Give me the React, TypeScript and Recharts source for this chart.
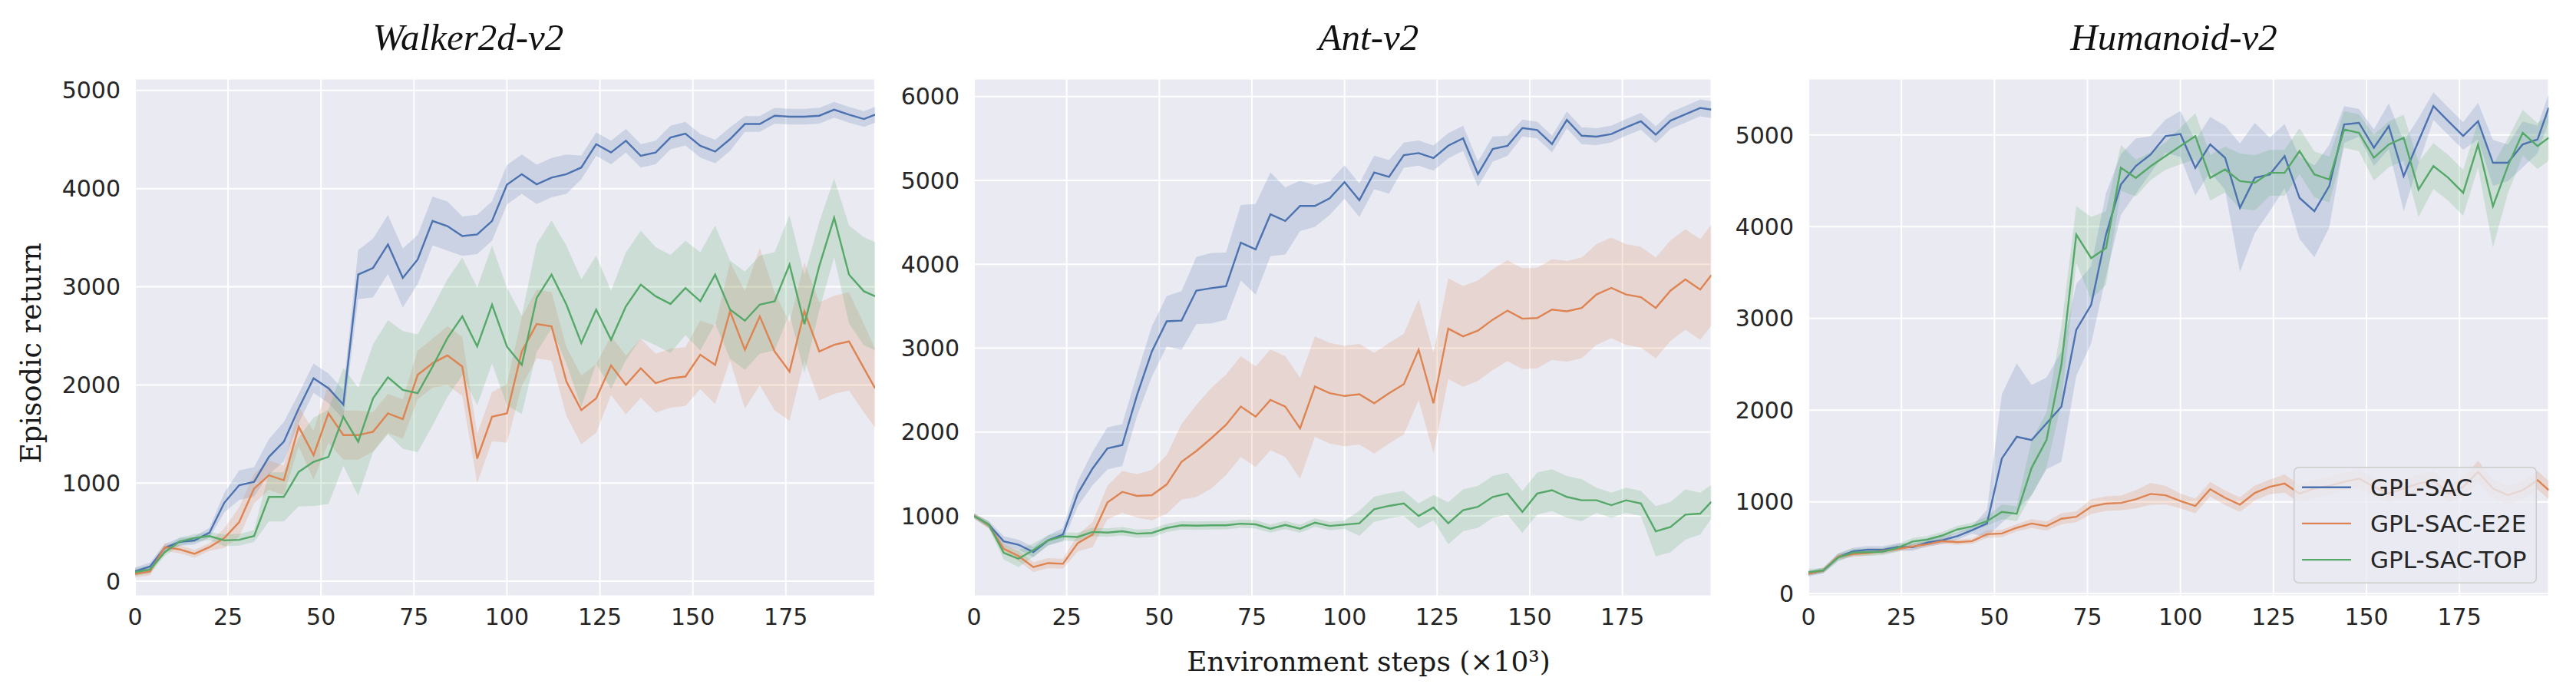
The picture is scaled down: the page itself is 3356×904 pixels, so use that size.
import React from 'react';
import { ComposedChart, Line, Area, XAxis, YAxis, CartesianGrid, Legend } from 'recharts';

const steps = [0, 4, 8, 12, 16, 20, 24, 28, 32, 36, 40, 44, 48, 52, 56, 60, 64, 68, 72, 76, 80, 84, 88, 92, 96, 100,
  104, 108, 112, 116, 120, 124, 128, 132, 136, 140, 144, 148, 152, 156, 160, 164, 168, 172, 176, 180, 184, 188, 192, 196, 199];

const xTicks = [0, 25, 50, 75, 100, 125, 150, 175];
const walkerTicks = [0, 1000, 2000, 3000, 4000, 5000];
const antTicks = [1000, 2000, 3000, 4000, 5000, 6000];
const humanoidTicks = [0, 1000, 2000, 3000, 4000, 5000];

const seriesNames = ['GPL-SAC', 'GPL-SAC-E2E', 'GPL-SAC-TOP'];
const seriesColors = ['#4c72b0', '#dd8452', '#55a868'];

// Walker2d-v2
const walkerSac = [100, 150, 340, 400, 415, 494, 800, 978, 1012, 1267, 1421, 1761, 2068, 1966, 1800, 3124, 3192, 3431, 3090, 3278, 3670, 3618, 3516, 3533, 3670, 4040,
  4147, 4044, 4112, 4147, 4215, 4453, 4368, 4487, 4334, 4368, 4521, 4560, 4436, 4378, 4504, 4658, 4658, 4743, 4733, 4733, 4743, 4804, 4753, 4709, 4753];
const walkerSacSd = [40, 40, 40, 40, 40, 50, 100, 150, 150, 180, 200, 150, 150, 150, 150, 250, 300, 300, 300, 250, 250, 250, 200, 200, 200, 200,
  200, 200, 200, 200, 120, 120, 120, 120, 120, 120, 120, 120, 120, 120, 120, 80, 80, 80, 80, 80, 80, 80, 80, 80, 80];
const walkerE2e = [75, 99, 347, 324, 279, 347, 440, 603, 944, 1080, 1029, 1574, 1284, 1710, 1489, 1489, 1523, 1710, 1652, 2102, 2221, 2300, 2187, 1250, 1676, 1710,
  2341, 2620, 2596, 2034, 1744, 1863, 2198, 2000, 2170, 2017, 2068, 2085, 2307, 2204, 2750, 2358, 2698, 2341, 2136, 2750, 2341, 2409, 2443, 2170, 1966];
const walkerE2eSd = [40, 40, 40, 40, 40, 40, 100, 150, 150, 150, 150, 200, 250, 300, 250, 250, 200, 200, 200, 250, 250, 300, 300, 250, 250, 300,
  350, 350, 350, 350, 350, 350, 300, 300, 300, 300, 300, 300, 350, 400, 500, 600, 700, 600, 500, 500, 500, 500, 500, 450, 400];
const walkerTop = [92, 119, 296, 405, 440, 460, 416, 422, 460, 859, 859, 1114, 1216, 1267, 1676, 1421, 1864, 2078, 1949, 1915, 2187, 2477, 2698, 2392, 2818, 2390,
  2204, 2886, 3124, 2818, 2426, 2767, 2460, 2801, 3022, 2903, 2825, 2988, 2852, 3124, 2767, 2654, 2818, 2852, 3227, 2620, 3210, 3704, 3124, 2954, 2903];
const walkerTopSd = [40, 40, 40, 40, 40, 40, 60, 60, 60, 250, 250, 350, 450, 480, 500, 550, 550, 580, 600, 600, 600, 600, 600, 600, 600, 600,
  500, 550, 550, 600, 650, 550, 500, 550, 550, 500, 500, 480, 500, 500, 500, 500, 500, 500, 500, 500, 450, 400, 500, 550, 550];

// Ant-v2
const antSac = [1000, 896, 697, 657, 569, 709, 777, 1267, 1566, 1805, 1845, 2443, 2962, 3321, 3329, 3687, 3715, 3739, 4258, 4178, 4596, 4517, 4696, 4696, 4788, 4980,
  4764, 5095, 5043, 5302, 5326, 5266, 5414, 5502, 5075, 5374, 5414, 5625, 5601, 5434, 5721, 5533, 5522, 5553, 5633, 5705, 5545, 5713, 5789, 5864, 5845];
const antSacSd = [30, 40, 60, 60, 60, 60, 80, 150, 200, 250, 250, 250, 300, 300, 350, 400, 420, 400, 450, 540, 500, 400, 300, 250, 200, 200,
  200, 200, 200, 150, 150, 150, 150, 150, 150, 150, 120, 100, 100, 100, 100, 100, 100, 100, 100, 100, 100, 100, 100, 100, 100];
const antE2e = [1000, 888, 609, 522, 390, 438, 430, 677, 777, 1160, 1287, 1239, 1247, 1375, 1646, 1774, 1925, 2085, 2304, 2184, 2384, 2304, 2045, 2543, 2463, 2430,
  2451, 2344, 2463, 2571, 2982, 2344, 3233, 3141, 3209, 3340, 3448, 3352, 3360, 3460, 3440, 3480, 3640, 3719, 3640, 3608, 3480, 3687, 3819, 3699, 3871];
const antE2eSd = [30, 40, 60, 60, 60, 60, 60, 100, 150, 200, 250, 260, 300, 350, 450, 550, 600, 600, 600, 600, 600, 600, 600, 600, 600, 600,
  600, 600, 600, 600, 600, 600, 600, 600, 600, 600, 600, 600, 600, 600, 600, 600, 600, 600, 600, 600, 600, 600, 600, 600, 600];
const antTop = [1000, 896, 561, 490, 593, 709, 757, 749, 809, 801, 817, 789, 797, 856, 888, 884, 888, 888, 908, 900, 848, 892, 848, 920, 880, 896,
  912, 1080, 1120, 1148, 1000, 1100, 912, 1068, 1108, 1227, 1267, 1048, 1267, 1307, 1227, 1187, 1187, 1128, 1187, 1148, 817, 868, 1016, 1028, 1168];
const antTopSd = [30, 40, 80, 100, 80, 60, 50, 50, 50, 50, 50, 50, 50, 50, 50, 50, 50, 50, 50, 50, 50, 50, 50, 50, 50, 50,
  150, 150, 150, 150, 150, 150, 250, 250, 250, 250, 250, 250, 250, 250, 250, 250, 150, 150, 150, 150, 300, 300, 300, 250, 200];

// Humanoid-v2
const humSac = [217, 253, 399, 461, 480, 477, 510, 506, 557, 583, 626, 692, 765, 1474, 1710, 1674, 1856, 2038, 2876, 3149, 3914, 4461, 4661, 4788, 4988, 5010,
  4642, 4898, 4752, 4206, 4533, 4569, 4770, 4315, 4169, 4443, 5115, 5133, 4861, 5097, 4551, 4934, 5315, 5151, 4989, 5151, 4697, 4697, 4898, 4952, 5298];
const humSacSd = [30, 30, 40, 40, 40, 40, 40, 40, 40, 40, 40, 40, 150, 700, 800, 600, 500, 600, 500, 420, 450, 330, 300, 200, 180, 250,
  300, 300, 350, 700, 600, 400, 350, 450, 500, 450, 200, 150, 200, 250, 380, 250, 150, 150, 150, 200, 250, 200, 250, 150, 150];
const humE2e = [217, 253, 404, 430, 444, 466, 488, 514, 539, 572, 561, 572, 648, 656, 718, 765, 736, 816, 838, 949, 982, 989, 1029, 1087, 1073, 1010,
  956, 1138, 1044, 971, 1098, 1164, 1200, 1091, 1146, 1175, 1219, 1255, 1164, 1091, 1146, 1200, 1237, 1091, 1164, 1328, 1146, 1073, 1128, 1237, 1128];
const humE2eSd = [20, 25, 30, 30, 30, 30, 30, 30, 30, 30, 30, 30, 40, 40, 40, 50, 50, 60, 60, 80, 80, 80, 100, 120, 100, 80,
  80, 80, 80, 80, 80, 80, 100, 100, 100, 100, 100, 100, 100, 100, 100, 100, 100, 100, 100, 120, 100, 100, 100, 100, 100];
const humTop = [235, 253, 394, 448, 452, 459, 499, 568, 590, 634, 699, 734, 789, 891, 872, 1372, 1675, 2494, 3915, 3658, 3768, 4643, 4532, 4660, 4770, 4880,
  4988, 4533, 4624, 4497, 4479, 4588, 4588, 4825, 4570, 4515, 5060, 5024, 4752, 4897, 4970, 4406, 4661, 4533, 4370, 4897, 4224, 4661, 5024, 4879, 4970];
const humTopSd = [30, 30, 40, 40, 40, 40, 40, 40, 40, 40, 40, 40, 50, 80, 80, 300, 300, 420, 310, 450, 400, 250, 200, 150, 150, 200,
  250, 250, 250, 300, 300, 250, 250, 250, 250, 250, 200, 200, 250, 250, 250, 300, 250, 250, 250, 250, 450, 300, 250, 250, 250];

type Row = Record<string, number | number[]>;

function makeRows(means: number[][], sds: number[][]): Row[] {
  return steps.map((step, i) => {
    const row: Row = { step };
    means.forEach((m, k) => {
      row['m' + k] = m[i];
      row['b' + k] = [m[i] - sds[k][i], m[i] + sds[k][i]];
    });
    return row;
  });
}

const walkerRows = makeRows([walkerSac, walkerE2e, walkerTop], [walkerSacSd, walkerE2eSd, walkerTopSd]);
const antRows = makeRows([antSac, antE2e, antTop], [antSacSd, antE2eSd, antTopSd]);
const humRows = makeRows([humSac, humE2e, humTop], [humSacSd, humE2eSd, humTopSd]);

const TICK_STYLE = { fontSize: 30, fill: '#262626', fontFamily: 'DejaVu Sans' };
const Y_AXIS_W = 110;
const PLOT_TOP = 102.5;
const PLOT_BOTTOM = 776.5;
const X_AXIS_H = 60;
const H = 904;

function LegendBox() {
  return (
    <svg width={317} height={152} style={{ display: 'block' }}>
      <rect x={0.75} y={0.75} width={315.5} height={150.5} rx={6} ry={6} fill="rgba(234,234,242,0.8)" stroke="#cccccc" strokeWidth={1.5} />
      {seriesNames.map((name, i) => {
        const cy = 26.7 + i * 47.2;
        return (
          <g key={name}>
            <line x1={11} x2={75} y1={cy} y2={cy} stroke={seriesColors[i]} strokeWidth={2.4} />
            <text x={100} y={cy + 11.2} fontSize={31} fontFamily="DejaVu Sans" fill="#262626">{name}</text>
          </g>
        );
      })}
    </svg>
  );
}

type PanelProps = {
  plotLeft: number;
  plotWidth: number;
  rows: Row[];
  domain: [number, number];
  yTicks: number[];
  legendPos?: { left: number; top: number };
};

function Panel({ plotLeft, plotWidth, rows, domain, yTicks, legendPos }: PanelProps) {
  const chartLeft = plotLeft - Y_AXIS_W;
  return (
    <div style={{ position: 'absolute', left: chartLeft, top: 0 }}>
      <ComposedChart
        width={Y_AXIS_W + plotWidth + 2}
        height={H}
        data={rows}
        margin={{ top: PLOT_TOP, right: 2, bottom: H - PLOT_BOTTOM - X_AXIS_H, left: 0 }}
      >
        <CartesianGrid fill="#eaeaf2" stroke="#ffffff" strokeWidth={2} />
        <XAxis
          dataKey="step"
          type="number"
          domain={[0, 199]}
          ticks={xTicks}
          interval={0}
          allowDataOverflow
          axisLine={false}
          tickLine={false}
          tickSize={0}
          tickMargin={16.5}
          height={X_AXIS_H}
          tick={TICK_STYLE}
        />
        <YAxis
          type="number"
          domain={domain}
          ticks={yTicks}
          interval={0}
          allowDataOverflow
          axisLine={false}
          tickLine={false}
          tickSize={0}
          tickMargin={19}
          width={Y_AXIS_W}
          tick={TICK_STYLE}
        />
        {[0, 1, 2].map((k) => (
          <Area
            key={'b' + k}
            type="linear"
            dataKey={'b' + k}
            fill={seriesColors[k]}
            fillOpacity={0.2}
            stroke="none"
            isAnimationActive={false}
            activeDot={false}
            legendType="none"
          />
        ))}
        {[0, 1, 2].map((k) => (
          <Line
            key={'m' + k}
            type="linear"
            dataKey={'m' + k}
            name={seriesNames[k]}
            stroke={seriesColors[k]}
            strokeWidth={2.4}
            dot={false}
            activeDot={false}
            isAnimationActive={false}
          />
        ))}
        {legendPos && (
          <Legend
            layout="vertical"
            align="center"
            verticalAlign="middle"
            content={() => <LegendBox />}
            wrapperStyle={{ left: legendPos.left - chartLeft, top: legendPos.top, width: 317, height: 152 }}
          />
        )}
      </ComposedChart>
    </div>
  );
}

export default function App() {
  return (
    <div style={{ position: 'absolute', left: 0, top: 0, width: 3356, height: 904, background: '#ffffff', overflow: 'hidden' }}>
      <Panel plotLeft={176} plotWidth={964} rows={walkerRows} domain={[-152, 5120]} yTicks={walkerTicks} />
      <Panel plotLeft={1268.5} plotWidth={960.5} rows={antRows} domain={[44, 6213]} yTicks={antTicks} />
      <Panel
        plotLeft={2356}
        plotWidth={964.5}
        rows={humRows}
        domain={[-27, 5614]}
        yTicks={humanoidTicks}
        legendPos={{ left: 2988.3, top: 608.3 }}
      />
      <svg width={3356} height={904} style={{ position: 'absolute', left: 0, top: 0, pointerEvents: 'none' }}>
        <text x={610} y={65} textAnchor="middle" fontFamily="'Liberation Serif', serif" fontStyle="italic" fontSize={49} fill="#111111">Walker2d-v2</text>
        <text x={1783} y={65} textAnchor="middle" fontFamily="'Liberation Serif', serif" fontStyle="italic" fontSize={49} fill="#111111">Ant-v2</text>
        <text x={2832} y={65} textAnchor="middle" fontFamily="'Liberation Serif', serif" fontStyle="italic" fontSize={49} fill="#111111">Humanoid-v2</text>
        <text transform="translate(53,460) rotate(-90)" textAnchor="middle" fontFamily="'DejaVu Serif', serif" fontSize={36.5} fill="#1a1a1a">Episodic return</text>
        <text x={1783} y={874} textAnchor="middle" fontFamily="'DejaVu Serif', serif" fontSize={36} fill="#1a1a1a">Environment steps (×10³)</text>
      </svg>
    </div>
  );
}
